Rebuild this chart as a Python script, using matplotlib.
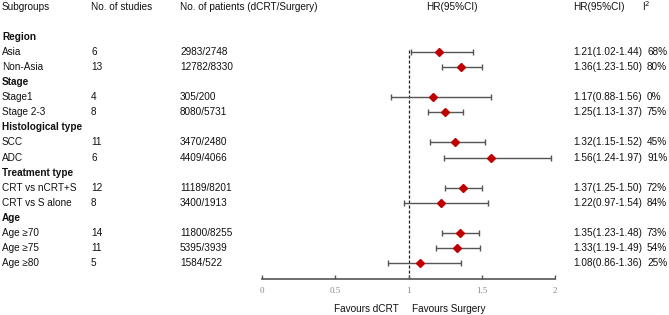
import numpy as np
import matplotlib.pyplot as plt

plt.rcParams['font.family'] = ['Liberation Sans', 'DejaVu Sans']

groups = ['Region', 'Stage', 'Histological type', 'Treatment type', 'Age']
subgroups = [
    ['Asia', 'Non-Asia'],
    ['Stage1', 'Stage 2-3'],
    ['SCC', 'ADC'],
    ['CRT vs nCRT+S', 'CRT vs S alone'],
    ['Age \u226570', 'Age \u226575', 'Age \u226580'],
]
n_studies = [6, 13, 4, 8, 11, 6, 12, 8, 14, 11, 5]
patients = ['2983/2748', '12782/8330', '305/200', '8080/5731', '3470/2480',
            '4409/4066', '11189/8201', '3400/1913', '11800/8255', '5395/3939',
            '1584/522']
hr = [1.21, 1.36, 1.17, 1.25, 1.32, 1.56, 1.37, 1.22, 1.35, 1.33, 1.08]
lo = [1.02, 1.23, 0.88, 1.13, 1.15, 1.24, 1.25, 0.97, 1.23, 1.19, 0.86]
hi = [1.44, 1.50, 1.56, 1.37, 1.52, 1.97, 1.50, 1.54, 1.48, 1.49, 1.36]
i2 = ['68%', '80%', '0%', '75%', '45%', '91%', '72%', '84%', '73%', '54%', '25%']
xticks = [0, 0.5, 1, 1.5, 2]

W, H = 669, 315
fig = plt.figure(figsize=(W / 100, H / 100), dpi=100)
x0, x1 = 262, 555
ax = fig.add_axes([x0 / W, 0, (x1 - x0) / W, 1])
ax.set_xlim(0, 2)
ax.set_ylim(H, 0)


def px(x):
    # figure pixel -> data x
    return (x - x0) / (x1 - x0) * 2


fs = 7.2
col_sub, col_n, col_pat, col_hr, col_i2 = px(2), px(91), px(180), px(573), px(647)
head_y = 7.5
kw = dict(fontsize=fs, va='center', clip_on=False, color='#111111')
ax.text(col_sub, head_y, 'Subgroups', ha='left', **kw)
ax.text(col_n, head_y, 'No. of studies', ha='left', **kw)
ax.text(col_pat, head_y, 'No. of patients (dCRT/Surgery)', ha='left', **kw)
ax.text(px(452), head_y, 'HR(95%CI)', ha='center', **kw)
ax.text(col_hr, head_y, 'HR(95%CI)', ha='left', **kw)
ax.text(px(642), head_y - 1, 'I$^{2}$', ha='left', **kw)

row0, step = 36.5, 15.13
r = 0
k = 0
ys = []
for g, subs in zip(groups, subgroups):
    y = row0 + step * r
    ax.text(col_sub, y, g, ha='left', fontweight='bold', **kw)
    r += 1
    for s in subs:
        y = row0 + step * r
        ys.append(y)
        ax.text(col_sub, y, s, ha='left', **kw)
        ax.text(col_n, y, str(n_studies[k]), ha='left', **kw)
        ax.text(col_pat, y, patients[k], ha='left', **kw)
        ax.text(col_hr, y, f'{hr[k]:.2f}({lo[k]:.2f}-{hi[k]:.2f})', ha='left', **kw)
        ax.text(col_i2, y, i2[k], ha='left', **kw)
        r += 1
        k += 1

ys = np.array(ys)
hr_a, lo_a, hi_a = np.array(hr), np.array(lo), np.array(hi)
ax.errorbar(hr_a, ys, xerr=[hr_a - lo_a, hi_a - hr_a], fmt='none',
            ecolor='#555555', elinewidth=1.0, capsize=2.5, capthick=1.0, zorder=2)
ax.plot(hr_a, ys, 'D', color='#c00000', markersize=4.2, zorder=3)

axis_y = 278.5
ax.plot([1, 1], [50, axis_y], color='#222222', lw=0.9, ls=(0, (2.5, 1.5)), zorder=1)

for s in ['top', 'right', 'left']:
    ax.spines[s].set_visible(False)
ax.spines['bottom'].set_position(('data', axis_y))
ax.spines['bottom'].set_color('#555555')
ax.spines['bottom'].set_linewidth(1.2)
ax.set_yticks([])
ax.set_xticks(xticks)
ax.set_xticklabels([str(t) for t in xticks], family='Liberation Serif',
                   fontsize=6.5, color='#888888')
ax.tick_params(axis='x', direction='in', length=3, width=1, color='#555555', pad=6)

ax.text(px(399), 308.5, 'Favours dCRT', ha='right', **kw)
ax.text(px(412), 308.5, 'Favours Surgery', ha='left', **kw)

fig.savefig('out.png', dpi=100)
